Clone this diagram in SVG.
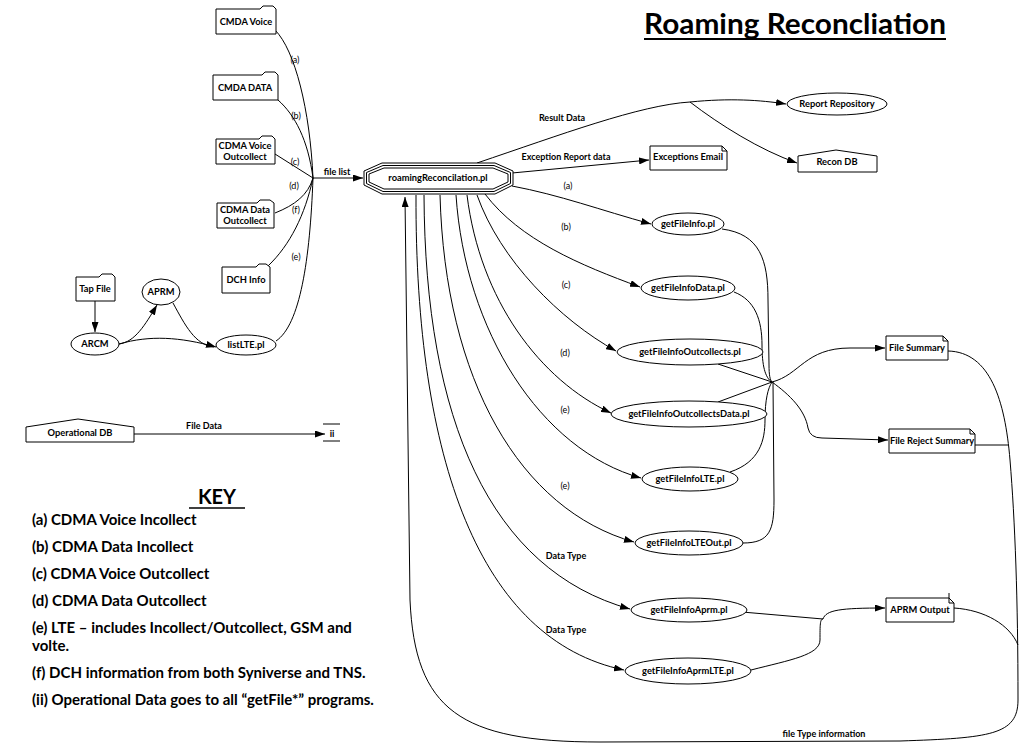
<svg xmlns="http://www.w3.org/2000/svg" width="1030" height="747" viewBox="0 0 1030 747">
<style>
.n{fill:#fff;stroke:#000;stroke-width:1}
.t{font-family:Lato,"Liberation Sans",sans-serif;font-weight:bold;font-size:9.3px;fill:#000;text-anchor:middle}
.l{font-family:Lato,"Liberation Sans",sans-serif;font-size:9px;fill:#000;text-anchor:middle}
.lb{font-family:Lato,"Liberation Sans",sans-serif;font-weight:bold;font-size:9px;fill:#000;text-anchor:middle}
.k{font-family:Lato,"Liberation Sans",sans-serif;font-weight:bold;font-size:15px;fill:#000}
.c{fill:none;stroke:#000;stroke-width:1}
.a{marker-end:url(#ah)}
</style>
<defs>
<marker id="ah" markerUnits="userSpaceOnUse" markerWidth="10" markerHeight="7" refX="10" refY="3.5" orient="auto">
<path d="M0,0 L10,3.5 L0,7 z" fill="#000"/>
</marker>
</defs>
<rect width="1030" height="747" fill="#fff"/>

<g id="title">
<text x="644" y="34" font-family="Lato,'Liberation Sans',sans-serif" font-weight="bold" font-size="28" textLength="302" lengthAdjust="spacingAndGlyphs">Roaming Reconcliation</text>
<line x1="644" y1="39" x2="946" y2="39" stroke="#000" stroke-width="2"/>
</g>

<g id="connectors">
<path class="c" d="M275,30 C295,50 310,110 313,178"/>
<path class="c" d="M278,100 C295,115 308,140 313,178"/>
<path class="c" d="M275,154 L313,178"/>
<path class="c" d="M275,213 C295,205 308,195 313,178"/>
<path class="c" d="M268,266 C290,245 305,215 313,178"/>
<path class="c" d="M276,341 C300,325 310,260 313,178"/>
<path class="c a" d="M313,178 L363,178"/>
<path class="c a" d="M95,301 L95,332"/>
<path class="c a" d="M119,344 C135,342 145,325 157,305"/>
<path class="c a" d="M119,344 C150,335 180,337 216,347"/>
<path class="c" d="M173,303 C185,325 195,345 214,347"/>
<path class="c a" d="M134,434 L325,434"/>
<path class="c" d="M477,163 C560,135 640,105 690,102"/>
<path class="c a" d="M690,102 C730,98 760,100 786,104"/>
<path class="c a" d="M690,102 C720,125 760,150 797,163"/>
<path class="c a" d="M512,173 L649,160"/>
<path class="c a" d="M512,186 C560,195 600,210 651,224"/>
<path class="c a" d="M485,194 C520,240 580,265 640,287"/>
<path class="c a" d="M477,195 C500,260 560,320 616,351"/>
<path class="c a" d="M467,195 C480,300 540,380 611,413"/>
<path class="c a" d="M456,195 C465,330 540,450 641,478"/>
<path class="c a" d="M440,195 C445,380 520,510 634,542"/>
<path class="c a" d="M424,195 C425,420 490,570 630,609"/>
<path class="c a" d="M416,195 C415,460 480,640 624,670"/>
<path class="c" d="M722,229 C760,234 768,260 768,300 L769,365 C769,375 770,380 772,382"/>
<path class="c" d="M734,292 C755,300 762,320 762,345 C762,365 765,378 772,382"/>
<path class="c" d="M718,364 L772,382"/>
<path class="c" d="M718,402 L772,382"/>
<path class="c" d="M730,472 C760,462 765,440 765,420 C765,400 768,388 772,382"/>
<path class="c" d="M743,543 C770,543 774,530 774,500 L773,382"/>
<path class="c a" d="M772,382 C800,375 805,348 850,348 L885,348"/>
<path class="c a" d="M772,382 C790,395 805,410 808,428 Q810,438 822,438 L888,440"/>
<path class="c" d="M742,612 L823,619"/>
<path class="c" d="M751,670 C790,660 820,655 820,640 C820,625 820,619 823,619"/>
<path class="c a" d="M823,619 C826,610 840,608 885,608"/>
<path class="c a" d="M948,351 C990,352 1005,400 1010,460 C1015,520 1018,600 1018,700 C1018,735 990,738 900,741 L600,742 C460,742 415,710 410,600 L405,197"/>
<path class="c" d="M975,445 L1008,445"/>
<path class="c" d="M954,608 C985,610 1010,625 1018,645"/>
</g>

<g id="connector-labels">
<text class="l" x="295" y="63">(a)</text>
<text class="l" x="296" y="119">(b)</text>
<text class="l" x="295" y="165">(c)</text>
<text class="l" x="294" y="189">(d)</text>
<text class="l" x="296" y="213">(f)</text>
<text class="l" x="296" y="260">(e)</text>
<text class="lb" x="337" y="175">file list</text>
<text class="lb" x="562" y="121">Result Data</text>
<text class="lb" x="566" y="160">Exception Report data</text>
<text class="l" x="568" y="189">(a)</text>
<text class="l" x="566" y="230">(b)</text>
<text class="l" x="566" y="288">(c)</text>
<text class="l" x="565" y="356">(d)</text>
<text class="l" x="565" y="413">(e)</text>
<text class="l" x="565" y="489">(e)</text>
<text class="lb" x="566" y="559">Data Type</text>
<text class="lb" x="566" y="633">Data Type</text>
<text class="lb" x="204" y="429">File Data</text>
<text class="lb" x="824" y="737">file Type information</text>
</g>

<g id="cmda-voice">
<path class="n" d="M216,9 H260 L263,6 H273 L276,9 V34 H216 Z"/>
<text class="t" x="246" y="25">CMDA Voice</text>
</g>
<g id="cmda-data">
<path class="n" d="M213,75 H262 L265,72 H275 L278,75 V100 H213 Z"/>
<text class="t" x="245" y="91">CMDA DATA</text>
</g>
<g id="cdma-voice-outcollect">
<path class="n" d="M216,139 H259 L262,136 H272 L275,139 V164 H216 Z"/>
<text class="t" x="245" y="149">CDMA Voice</text>
<text class="t" x="245" y="160">Outcollect</text>
</g>
<g id="cdma-data-outcollect">
<path class="n" d="M217,203 H257 L260,200 H270 L274,203 V228 H217 Z"/>
<text class="t" x="245" y="213">CDMA Data</text>
<text class="t" x="245" y="224">Outcollect</text>
</g>
<g id="dch-info">
<path class="n" d="M222,267 H256 L259,264 H266 L270,267 V293 H222 Z"/>
<text class="t" x="246" y="283">DCH Info</text>
</g>
<g id="tap-file">
<path class="n" d="M76,277 H99 L102,274 H112 L115,277 V301 H76 Z"/>
<text class="t" x="95" y="292">Tap File</text>
</g>
<g id="aprm">
<ellipse class="n" cx="161" cy="292" rx="19" ry="13"/>
<text class="t" x="161" y="295">APRM</text>
</g>
<g id="arcm">
<ellipse class="n" cx="95" cy="344" rx="24" ry="11"/>
<text class="t" x="95" y="347">ARCM</text>
</g>
<g id="listlte">
<ellipse class="n" cx="246" cy="345" rx="30" ry="10"/>
<text class="t" x="246" y="348">listLTE.pl</text>
</g>
<g id="operational-db">
<path class="n" d="M26,427 L78,419 L134,427 V442 H26 Z"/>
<text class="t" x="80" y="436">Operational DB</text>
</g>
<g id="ii">
<line x1="323" y1="424" x2="340" y2="424" stroke="#000"/>
<line x1="323" y1="441" x2="340" y2="441" stroke="#000"/>
<text class="t" x="332" y="437" font-size="10">ii</text>
</g>
<g id="roaming-reconciliation">
<path class="n" d="M382,163 H495 L513,171 V185 L495,194 H382 L364,185 V171 Z"/>
<path class="c" d="M383,165.5 H494 L510.5,172.5 V183.5 L494,191.5 H383 L366.5,183.5 V172.5 Z"/>
<path class="c" d="M384,168 H493 L508,174 V182 L493,189 H384 L369,182 V174 Z"/>
<text class="t" x="438" y="181" font-size="9.5">roamingReconcilation.pl</text>
</g>
<g id="report-repository">
<ellipse class="n" cx="837" cy="104" rx="50" ry="11"/>
<text class="t" x="837" y="107">Report Repository</text>
</g>
<g id="recon-db">
<path class="n" d="M798,156 L836,150 L877,156 V172 H798 Z"/>
<text class="t" x="837" y="165">Recon DB</text>
</g>
<g id="exceptions-email">
<path class="n" d="M650,146 H722 L727,151 V170 H650 Z"/>
<path class="c" d="M722,146 V151 H727"/>
<text class="t" x="688" y="160">Exceptions Email</text>
</g>
<g id="getfileinfo">
<ellipse class="n" cx="688" cy="224" rx="36" ry="11"/>
<text class="t" x="688" y="227">getFileInfo.pl</text>
</g>
<g id="getfileinfodata">
<ellipse class="n" cx="688" cy="288" rx="47" ry="12"/>
<text class="t" x="688" y="291">getFileInfoData.pl</text>
</g>
<g id="getfileinfooutcollects">
<ellipse class="n" cx="690" cy="352" rx="73" ry="13"/>
<text class="t" x="690" y="355">getFileInfoOutcollects.pl</text>
</g>
<g id="getfileinfooutcollectsdata">
<ellipse class="n" cx="689" cy="414" rx="78" ry="13"/>
<text class="t" x="689" y="417">getFileInfoOutcollectsData.pl</text>
</g>
<g id="getfileinfolte">
<ellipse class="n" cx="690" cy="479" rx="48" ry="12"/>
<text class="t" x="690" y="482">getFileInfoLTE.pl</text>
</g>
<g id="getfileinfolteout">
<ellipse class="n" cx="689" cy="543" rx="54" ry="12"/>
<text class="t" x="689" y="546">getFileInfoLTEOut.pl</text>
</g>
<g id="getfileinfoaprm">
<ellipse class="n" cx="689" cy="610" rx="58" ry="12"/>
<text class="t" x="689" y="613">getFileInfoAprm.pl</text>
</g>
<g id="getfileinfoaprmlte">
<ellipse class="n" cx="688" cy="671" rx="63" ry="13"/>
<text class="t" x="688" y="674">getFileInfoAprmLTE.pl</text>
</g>
<g id="file-summary">
<path class="n" d="M886,336 H943 L948,341 V360 H886 Z"/>
<path class="c" d="M943,336 V341 H948"/>
<text class="t" x="917" y="351">File Summary</text>
</g>
<g id="file-reject-summary">
<path class="n" d="M889,429 H970 L975,434 V453 H889 Z"/>
<path class="c" d="M970,429 V434 H975"/>
<text class="t" x="932" y="444">File Reject Summary</text>
</g>
<g id="aprm-output">
<path class="n" d="M886,598 H949 L954,603 V622 H886 Z"/>
<path class="c" d="M949,593 V603 H954"/>
<text class="t" x="920" y="613">APRM Output</text>
</g>

<g id="key">
<text x="217" y="504" font-family="Lato,'Liberation Sans',sans-serif" font-weight="bold" font-size="20" text-anchor="middle">KEY</text>
<line x1="189" y1="508" x2="245" y2="508" stroke="#000" stroke-width="1.5"/>
<text class="k" x="32" y="525">(a) CDMA Voice Incollect</text>
<text class="k" x="32" y="552">(b) CDMA Data Incollect</text>
<text class="k" x="32" y="579">(c) CDMA Voice Outcollect</text>
<text class="k" x="32" y="606">(d) CDMA Data Outcollect</text>
<text class="k" x="32" y="633">(e) LTE – includes Incollect/Outcollect, GSM and</text>
<text class="k" x="32" y="651">volte.</text>
<text class="k" x="32" y="678">(f) DCH information from both Syniverse and TNS.</text>
<text class="k" x="32" y="705">(ii) Operational Data goes to all “getFile*” programs.</text>
</g>
</svg>
